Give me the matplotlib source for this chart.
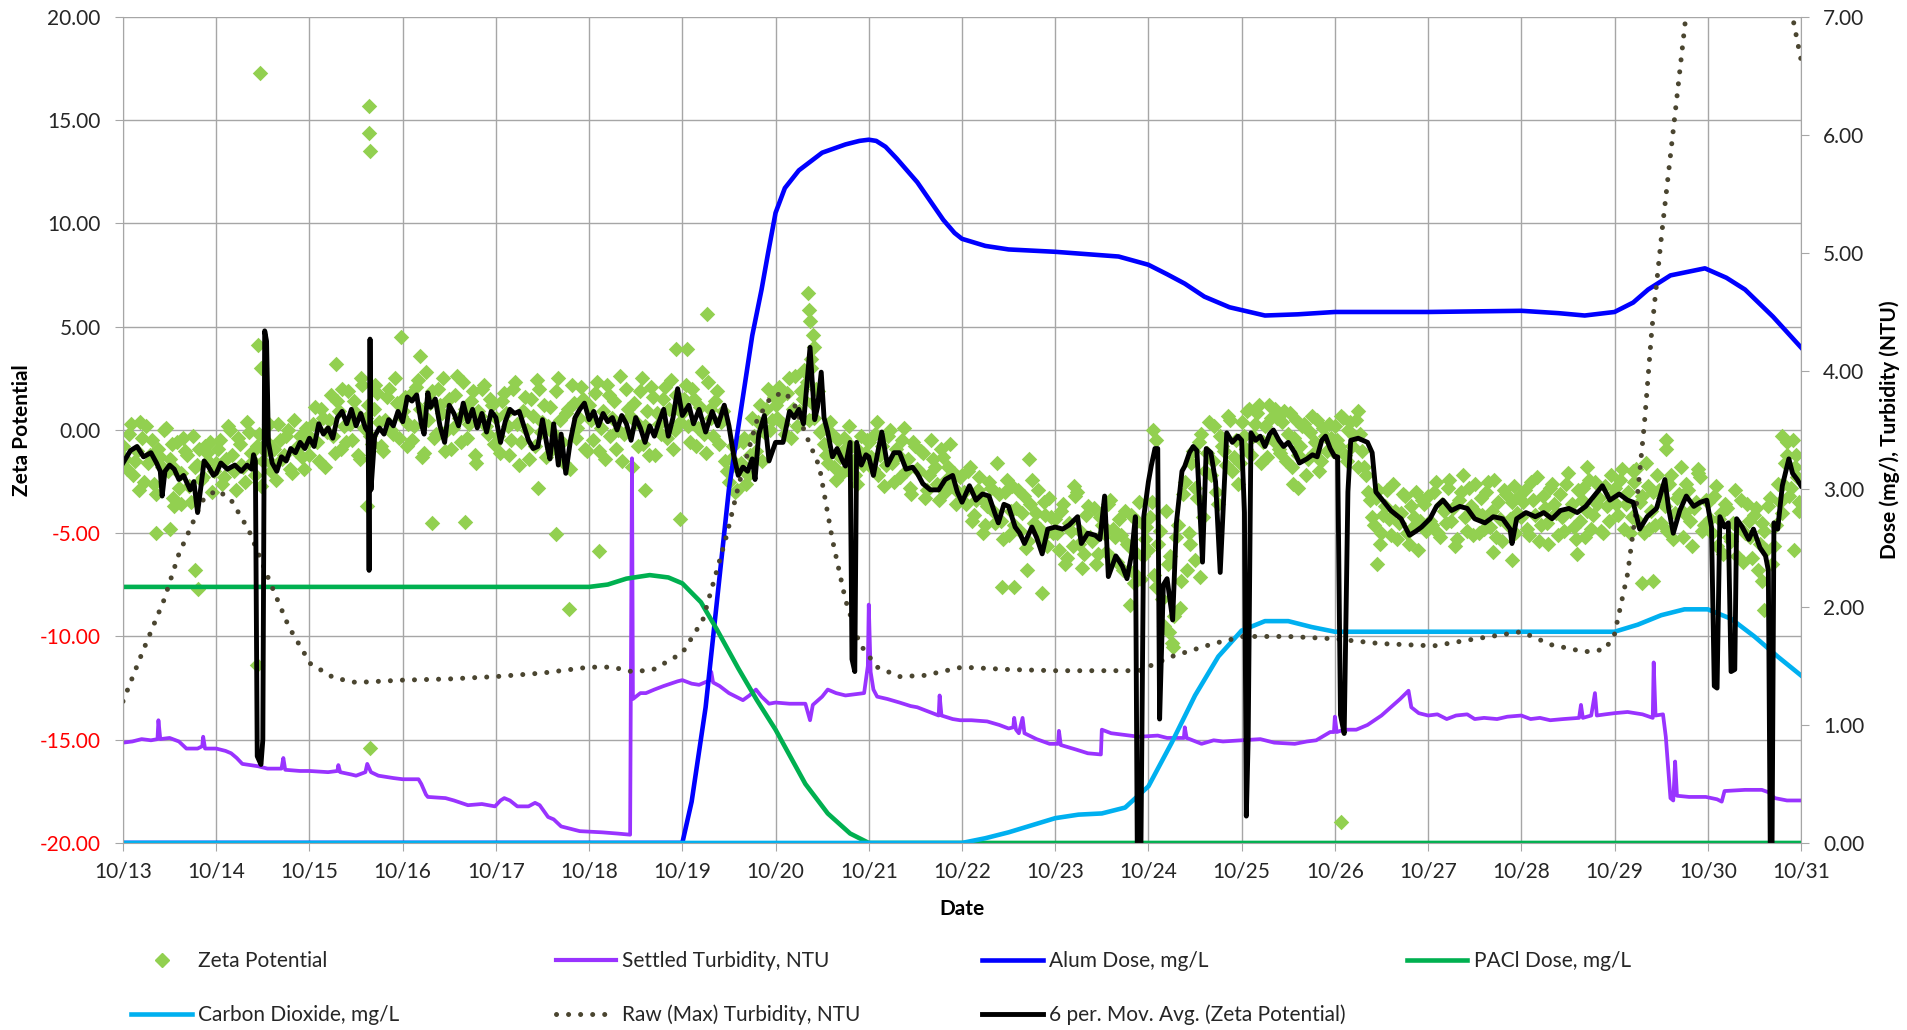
import numpy as np
import matplotlib.pyplot as plt
from matplotlib.lines import Line2D

plt.rcParams['font.family'] = ['Lato', 'DejaVu Sans']

# x axis: day 0 = 10/13
date_labels = ['10/%d' % d for d in range(13, 32)]

# Zeta potential readings on the hour, per day
zeta_1013 = [-0.8, -1.9, 0.3, -1.5, -2.9, -0.4, 0.2, -1.2, -2.6, -0.9, -1.8, 0.1,
             -1.4, -3.3, -0.6, -2.1, -1.0, -2.7, -0.3, -1.7, -2.4, -0.8, -1.5, -3.0]
zeta_1014 = [-1.6, -0.5, -2.3, 0.2, -1.2, -2.9, -0.7, -1.8, 0.4, -1.1, -2.2, -0.2,
             -1.5, -0.6, -2.0, -0.9, 0.3, -1.4, -0.3, -1.9, 0.5, -0.8, -1.3, 0.1]
zeta_1015 = [-1.2, 0.3, -0.6, 1.0, -1.8, 0.5, -0.3, 1.4, -0.9, 0.2, 1.9, -0.5,
             0.8, -1.4, 0.1, 1.2, -0.7, 2.2, 0.4, -1.0, 1.6, 0.0, 2.5, -0.4]
zeta_1016 = [0.9, -0.8, 1.7, 0.2, 2.4, -1.3, 0.6, 1.3, -0.4, 2.0, 0.8, -1.0,
             1.5, 0.1, 2.6, -0.6, 1.0, 0.3, 1.9, -1.6, 0.7, 2.2, -0.2, 1.2]
zeta_1017 = [0.6, -1.1, 1.8, 0.2, -0.5, 2.3, -1.7, 0.9, 0.0, 1.5, -0.8, 2.0,
             0.4, -1.3, 1.1, -0.2, 2.5, -0.6, 0.8, -1.9, 1.3, 0.1, 2.1, -0.9]
zeta_1018 = [1.2, -0.5, 2.3, 0.1, -1.4, 1.7, 0.6, -0.9, 2.6, -0.2, 1.0, -1.8,
             0.4, 1.9, -0.7, 0.9, 2.1, -1.2, 0.3, 1.5, -0.4, 2.4, 0.0, 1.1]
zeta_1019 = [0.8, 2.2, -0.6, 1.5, 0.1, 2.8, -1.1, 1.0, -0.3, 1.9, 0.4, -1.5,
             -2.5, -0.8, -2.9, -1.6, -0.4, -2.2, 0.6, -1.0, 1.2, -0.1, 2.0, 0.5]
zeta_1020 = [1.2, 2.1, 0.3, 1.8, -0.4, 2.6, 0.9, 1.5, 2.3, 3.0, 0.6, 1.9,
             0.0, -1.2, 0.4, -1.8, -0.5, -2.1, -0.9, 0.2, -1.5, -2.6, -0.3, -1.1]
zeta_1021 = [-0.6, -1.9, 0.4, -1.2, -2.7, -0.3, -1.6, -0.9, -2.3, 0.1, -1.4, -3.1,
             -0.8, -2.0, -1.1, -2.9, -0.5, -1.8, -3.4, -1.3, -2.4, -0.7, -2.1, -3.0]
zeta_1022 = [-2.2, -3.6, -1.8, -4.1, -2.9, -3.3, -4.6, -2.5, -3.9, -1.6, -4.4, -3.0,
             -5.1, -2.7, -3.8, -4.9, -3.2, -5.4, -2.4, -4.0, -4.8, -3.5, -5.6, -4.2]
zeta_1023 = [-4.3, -5.8, -3.6, -6.2, -4.9, -3.2, -5.5, -6.7, -4.1, -5.2, -3.8, -6.0,
             -4.6, -5.9, -3.4, -4.8, -6.4, -5.1, -3.9, -5.6, -6.9, -4.4, -7.2, -5.3]
zeta_1024 = [-5.8, -3.5, -7.6, -4.9, -9.5, -6.5, -10.3, -5.2, -8.6, -3.1, -6.8, -1.6,
             -2.8, -0.6, -4.2, -1.1, -2.2, 0.2, -3.6, -0.8, -1.7, 0.5, -1.3, -2.6]
zeta_1025 = [0.4, -0.9, 1.0, -0.3, 0.8, -1.6, 0.2, 1.2, -0.5, 0.6, -1.1, 0.9,
             -0.2, -1.8, 0.5, -0.8, 0.3, -1.4, 0.7, -0.6, -2.0, 0.1, -1.0, -0.4]
zeta_1026 = [0.2, -0.8, 0.6, -1.5, 0.4, -0.3, 0.9, -1.0, -2.2, -3.4, -4.6, -2.9,
             -5.0, -3.7, -4.3, -2.6, -5.3, -4.0, -3.2, -5.5, -4.7, -3.0, -4.4, -3.6]
zeta_1027 = [-3.2, -4.6, -2.5, -5.2, -3.9, -2.8, -4.4, -5.6, -3.4, -2.2, -4.9, -3.7,
             -2.6, -5.0, -4.1, -3.0, -4.7, -2.4, -3.5, -5.4, -3.1, -4.3, -2.7, -4.0]
zeta_1028 = [-4.2, -2.9, -5.1, -3.4, -2.3, -4.6, -3.8, -5.5, -2.6, -4.0, -3.1, -4.9,
             -2.1, -3.6, -5.3, -4.4, -2.8, -3.9, -4.8, -2.5, -3.3, -5.0, -3.7, -2.2]
zeta_1029 = [-2.8, -4.1, -1.9, -3.6, -5.0, -2.5, -4.4, -3.2, -1.6, -4.8, -3.0, -2.2,
             -4.5, -3.7, -2.6, -5.3, -3.3, -1.8, -4.0, -2.9, -5.6, -3.5, -2.3, -4.6]
zeta_1030 = [-3.5, -5.0, -2.7, -4.3, -6.0, -3.8, -5.4, -2.9, -4.7, -6.4, -3.6, -5.2,
             -4.1, -6.8, -4.5, -5.8, -3.3, -5.6, -2.6, -4.0, -1.6, -3.2, -0.5, -2.3]

# Zeta potential readings on the half hour, per day
zeta_h_1013 = [-1.4, -0.2, -2.2, -1.0, 0.4, -2.5, -1.6, -0.5, -3.1, -1.3, 0.0, -2.0,
               -0.7, -1.9, -2.8, -0.4, -1.2, -3.5, -1.8, -0.9, -2.3, -1.1, -0.6, -2.0]
zeta_h_1014 = [-0.9, -2.6, -1.4, 0.0, -2.0, -0.4, -1.7, -2.5, -0.1, -1.5, -0.8, -2.7,
               -1.0, 0.3, -1.7, -2.4, -0.5, -1.2, 0.0, -2.1, -1.0, -0.3, -1.9, -0.6]
zeta_h_1015 = [-0.4, 1.1, -1.5, 0.6, -0.1, 1.7, -1.1, 0.9, 2.0, -0.6, 0.3, 1.4,
               -1.2, 2.2, 0.6, -0.3, 1.0, 1.8, -0.8, 0.5, 2.0, -0.2, 1.3, 0.7]
zeta_h_1016 = [1.6, 0.3, -0.5, 2.1, 1.0, -1.1, 0.5, 1.9, -0.2, 1.2, 2.5, 0.0,
               -0.9, 1.7, 0.6, 2.3, -0.4, 1.4, -1.2, 0.9, 2.0, 0.2, 1.5, -0.7]
zeta_h_1017 = [-0.3, 1.4, 0.8, -1.2, 2.0, 0.3, -0.6, 1.6, -1.4, 0.7, 2.4, -0.1,
               1.2, 0.2, -0.9, 1.9, 0.5, -1.6, 1.0, 2.2, -0.4, 0.6, 1.5, -1.0]
zeta_h_1018 = [0.5, 1.8, -1.0, 0.9, 2.2, -0.3, 1.4, 0.0, -1.5, 2.0, 0.7, 1.3,
               -0.8, 2.5, 0.2, -1.2, 1.6, 0.8, -0.2, 2.1, 1.0, -0.9, 1.7, 0.4]
zeta_h_1019 = [1.5, 0.2, 2.0, -0.8, 1.1, -0.2, 2.3, 0.6, 1.4, -0.7, 0.9, -2.0,
               -1.4, -3.0, -1.9, -0.6, -2.6, -1.2, -0.3, 0.4, -1.5, 1.0, 0.0, 1.6]
zeta_h_1020 = [0.6, 1.6, -0.2, 2.5, 1.0, 0.2, 1.9, 2.8, 0.5, 1.3, 2.0, -0.1,
               -0.7, -1.6, -0.2, -2.4, -1.3, -0.4, -1.9, -0.8, -2.2, -1.0, -1.7, -0.5]
zeta_h_1021 = [-1.3, -0.2, -2.2, -0.8, -1.7, 0.0, -2.5, -1.2, -0.5, -2.0, -2.8, -0.6,
               -1.9, -1.0, -3.3, -2.2, -1.4, -2.6, -0.9, -3.0, -1.8, -2.7, -3.6, -2.3]
zeta_h_1022 = [-3.0, -2.0, -4.4, -3.4, -2.3, -5.0, -3.7, -2.8, -4.5, -3.1, -5.3, -2.4,
               -3.9, -4.6, -2.9, -4.0, -5.7, -3.6, -4.5, -2.9, -5.2, -4.1, -3.3, -5.0]
zeta_h_1023 = [-5.0, -3.9, -6.5, -4.5, -5.6, -3.0, -4.9, -6.0, -3.7, -5.4, -6.5, -4.2,
               -5.0, -3.6, -6.2, -5.2, -4.3, -6.8, -5.5, -4.1, -5.9, -3.5, -6.1, -4.7]
zeta_h_1024 = [-4.2, -7.0, -5.5, -8.2, -3.9, -6.1, -9.0, -4.6, -7.3, -2.5, -5.0, -1.0,
               -3.3, -0.2, -2.0, 0.4, -1.5, -3.0, -0.3, -1.0, 0.7, -2.0, -0.5, -1.6]
zeta_h_1025 = [-0.3, 0.9, -1.2, 0.3, 1.2, -0.6, -1.3, 0.6, 1.0, -0.9, 0.4, -1.5,
               0.8, -0.4, -1.2, 0.2, -2.2, -0.1, -1.1, 0.5, -1.5, -0.3, 0.3, -1.0]
zeta_h_1026 = [-0.5, 0.7, -1.2, 0.0, -0.8, 0.5, -0.2, -1.8, -3.0, -4.2, -3.3, -5.5,
               -4.1, -2.9, -5.1, -3.9, -4.5, -3.1, -5.0, -3.7, -4.2, -5.8, -3.4, -4.9]
zeta_h_1027 = [-4.4, -3.0, -5.0, -3.6, -4.5, -2.4, -3.8, -5.3, -3.0, -4.2, -2.8, -5.1,
               -4.0, -3.3, -4.8, -2.5, -3.9, -5.2, -4.3, -2.9, -4.6, -3.5, -5.0, -3.2]
zeta_h_1028 = [-3.5, -4.8, -2.5, -4.1, -5.4, -3.2, -4.5, -2.8, -3.6, -5.1, -4.2, -2.6,
               -3.9, -4.7, -2.9, -3.4, -5.2, -2.4, -4.1, -3.6, -4.9, -2.7, -4.4, -3.1]
zeta_h_1029 = [-3.6, -2.4, -4.8, -3.0, -4.2, -1.9, -3.5, -5.0, -2.7, -3.9, -4.6, -2.9,
               -3.3, -4.9, -2.2, -4.0, -3.1, -5.2, -2.6, -4.4, -3.8, -2.1, -4.9, -3.4]
zeta_h_1030 = [-4.3, -3.2, -5.6, -4.0, -3.6, -5.2, -4.5, -6.1, -3.4, -5.0, -4.4, -6.2,
               -3.8, -5.5, -4.9, -3.7, -6.5, -4.6, -3.5, -2.6, -1.2, -2.8, -1.8, -3.5]

# isolated zeta readings (day, value)
zeta_extra = [(0.35, -5.0), (0.5, -4.8), (0.77, -6.8), (0.8, -7.7), (0.55, -3.7), (0.62, -3.6),
              (1.47, 17.3), (1.45, 4.1), (1.48, 3.0), (1.44, -11.4),
              (2.29, 3.2), (2.64, 15.7), (2.64, 14.4), (2.65, 13.5), (2.62, -3.7), (2.65, -15.4),
              (2.55, 2.5), (2.98, 4.5), (3.19, 3.6), (3.32, -4.5), (3.67, -4.45), (3.25, 2.8),
              (4.64, -5.05), (4.45, -2.8), (4.78, -8.65), (5.11, -5.85), (5.93, 3.94),
              (5.97, -4.3), (5.6, -2.9), (6.05, 3.93), (6.27, 5.6),
              (7.35, 6.65), (7.36, 5.83), (7.37, 5.27), (7.4, 4.62), (7.41, 4.04), (7.38, 3.45),
              (7.3, 2.9), (9.43, -7.6), (9.56, -7.6), (9.72, -1.4), (9.86, -7.9), (9.7, -6.8),
              (10.2, -2.7), (10.8, -8.5), (10.85, -7.4), (11.05, 0.0), (11.08, -0.5),
              (11.26, -10.5), (11.22, -9.8), (11.45, -5.5), (11.5, -6.3), (11.55, -7.1),
              (12.55, -2.6), (12.6, -2.8), (13.07, -19.0), (13.45, -6.5), (13.25, -1.8),
              (14.7, -5.9), (14.9, -6.3), (15.6, -6.0), (15.7, -1.8),
              (16.3, -7.4), (16.41, -7.3), (16.55, -0.5), (16.55, -0.9), (16.2, -2.0),
              (16.9, -1.9), (17.6, -8.7), (17.58, -7.3), (17.8, -0.3), (17.85, -0.6),
              (17.92, -5.8), (17.95, -1.2), (17.98, -3.9)]

# 6 per. moving average of zeta potential (day, value)
zeta_avg = [(0.0, -1.6), (0.08, -1.0), (0.15, -0.8), (0.22, -1.3), (0.3, -1.1), (0.36, -1.6),
            (0.4, -2.0), (0.42, -3.2), (0.45, -2.0), (0.5, -1.7), (0.55, -1.9), (0.6, -2.4),
            (0.65, -2.2), (0.72, -2.9), (0.76, -2.5), (0.8, -4.0), (0.84, -2.6), (0.87, -1.5),
            (0.92, -1.8), (0.97, -2.2), (1.0, -2.1), (1.05, -1.6), (1.12, -1.9), (1.2, -1.7),
            (1.27, -2.0), (1.33, -1.7), (1.38, -1.9), (1.4, -1.2), (1.42, -1.5), (1.44, -15.8),
            (1.48, -16.2), (1.5, -15.0), (1.52, 4.8), (1.54, 4.3), (1.56, -0.6), (1.6, -1.6),
            (1.65, -2.0), (1.7, -1.3), (1.75, -1.5), (1.8, -0.9), (1.85, -1.1), (1.9, -0.6),
            (1.95, -0.9), (2.0, -0.4), (2.05, -0.8), (2.1, 0.3), (2.15, -0.2), (2.2, 0.1),
            (2.25, -0.4), (2.3, 0.6), (2.35, 0.9), (2.4, 0.3), (2.45, 1.0), (2.5, 0.2),
            (2.55, 0.8), (2.6, 0.1), (2.63, -0.1), (2.64, -6.8), (2.65, 4.4), (2.66, -2.9),
            (2.7, -0.3), (2.75, 0.1), (2.8, -0.2), (2.85, 0.5), (2.9, 0.2), (2.95, 0.9),
            (3.0, 0.4), (3.05, 1.6), (3.1, 1.4), (3.15, 1.7), (3.2, 0.3), (3.23, -0.2),
            (3.27, 1.8), (3.3, 1.1), (3.35, 1.5), (3.4, 0.2), (3.45, -0.6), (3.5, 1.2),
            (3.55, 0.8), (3.6, 0.2), (3.65, 1.3), (3.7, 0.4), (3.75, 1.0), (3.8, 0.1),
            (3.85, 0.8), (3.9, -0.1), (3.95, 0.9), (4.0, 0.6), (4.05, -0.6), (4.1, 0.4),
            (4.15, 1.0), (4.2, 0.8), (4.25, 0.9), (4.3, 0.2), (4.35, -0.5), (4.4, -0.9),
            (4.45, -0.8), (4.5, 0.5), (4.55, -0.8), (4.58, -1.4), (4.62, 0.3), (4.67, -1.7),
            (4.7, -0.2), (4.75, -2.1), (4.8, -0.5), (4.85, 0.6), (4.9, 1.0), (4.95, 1.3),
            (5.0, 0.5), (5.05, 0.9), (5.1, 0.2), (5.15, 0.8), (5.2, 0.4), (5.25, 0.6),
            (5.3, 0.0), (5.35, 0.7), (5.4, 0.3), (5.45, -0.5), (5.5, 0.6), (5.55, 0.1),
            (5.6, -0.6), (5.65, 0.2), (5.7, -0.3), (5.75, 0.4), (5.8, 1.0), (5.85, -0.3),
            (5.9, 0.6), (5.95, 2.0), (6.0, 0.7), (6.07, 1.2), (6.12, 0.3), (6.18, 1.0),
            (6.25, -0.1), (6.32, 0.9), (6.38, 0.2), (6.45, 1.2), (6.5, 0.2), (6.55, -1.2),
            (6.6, -2.2), (6.65, -1.8), (6.7, -2.0), (6.75, -1.4), (6.78, -2.4), (6.82, -0.2),
            (6.88, 0.7), (6.93, -1.5), (7.0, -0.6), (7.08, -0.6), (7.15, 0.9), (7.2, 0.6),
            (7.25, 1.0), (7.3, 0.3), (7.37, 4.0), (7.42, 0.5), (7.45, 1.1), (7.49, 2.8),
            (7.52, 0.6), (7.56, -0.1), (7.61, -1.3), (7.66, -0.9), (7.72, -1.5), (7.75, -1.75),
            (7.8, -0.6), (7.82, -11.1), (7.85, -11.7), (7.87, -0.6), (7.92, -1.7), (7.97, -1.2),
            (8.0, -1.3), (8.05, -2.2), (8.1, -1.0), (8.14, -0.1), (8.2, -1.7), (8.27, -1.1),
            (8.33, -1.1), (8.4, -1.9), (8.47, -1.8), (8.52, -2.1), (8.58, -2.6), (8.66, -2.9),
            (8.75, -2.9), (8.82, -2.4), (8.9, -2.2), (8.95, -3.0), (9.0, -3.5), (9.08, -2.7),
            (9.15, -3.4), (9.22, -3.1), (9.29, -3.2), (9.35, -4.0), (9.39, -4.5), (9.45, -3.6),
            (9.5, -3.7), (9.57, -4.7), (9.62, -5.0), (9.67, -5.5), (9.75, -4.7), (9.8, -5.2),
            (9.86, -6.0), (9.92, -4.8), (10.0, -4.7), (10.08, -4.8), (10.15, -4.6), (10.24, -4.2),
            (10.28, -5.5), (10.35, -5.0), (10.43, -5.1), (10.48, -5.3), (10.53, -3.2),
            (10.57, -7.1), (10.65, -6.1), (10.72, -6.6), (10.77, -7.2), (10.82, -6.0),
            (10.86, -4.2), (10.88, -20.0), (10.92, -20.0), (10.95, -4.2), (11.0, -2.5),
            (11.03, -1.75), (11.07, -0.9), (11.1, -0.9), (11.12, -14.0), (11.16, -7.5),
            (11.2, -7.2), (11.26, -9.2), (11.3, -4.5), (11.36, -2.0), (11.39, -1.75),
            (11.44, -1.1), (11.48, -0.8), (11.52, -1.0), (11.58, -6.4), (11.62, -0.9),
            (11.67, -1.1), (11.72, -2.5), (11.77, -6.9), (11.84, -0.14), (11.9, -0.6),
            (11.96, -0.3), (12.0, -0.5), (12.03, -4.0), (12.05, -18.7), (12.07, -15.0),
            (12.1, -0.14), (12.15, -0.5), (12.2, -0.3), (12.25, -0.8), (12.3, -0.2),
            (12.34, 0.0), (12.4, -0.5), (12.45, -0.8), (12.5, -0.6), (12.57, -1.1),
            (12.62, -1.6), (12.7, -1.4), (12.76, -1.2), (12.81, -1.3), (12.86, -0.5),
            (12.9, -0.3), (12.95, -0.9), (13.0, -1.3), (13.03, -1.3), (13.06, -13.8),
            (13.1, -14.7), (13.14, -3.0), (13.17, -0.5), (13.25, -0.4), (13.35, -0.6),
            (13.4, -1.1), (13.44, -3.0), (13.53, -3.5), (13.6, -3.9), (13.71, -4.3),
            (13.8, -5.1), (13.87, -4.9), (13.93, -4.7), (14.02, -4.3), (14.09, -3.7),
            (14.16, -3.4), (14.25, -3.9), (14.34, -3.7), (14.42, -3.8), (14.5, -4.3),
            (14.61, -4.5), (14.7, -4.2), (14.8, -4.3), (14.88, -4.8), (14.9, -5.5),
            (14.95, -4.3), (15.05, -4.0), (15.15, -4.2), (15.24, -4.0), (15.33, -4.3),
            (15.42, -3.9), (15.51, -3.8), (15.6, -4.0), (15.69, -3.7), (15.78, -3.2),
            (15.87, -2.7), (15.95, -3.4), (16.05, -3.1), (16.14, -3.4), (16.2, -3.5),
            (16.27, -4.8), (16.35, -4.2), (16.45, -3.8), (16.54, -2.4), (16.58, -3.8),
            (16.63, -5.0), (16.7, -3.9), (16.77, -3.2), (16.85, -3.7), (16.92, -3.5),
            (16.99, -3.4), (17.04, -4.7), (17.07, -12.4), (17.1, -12.5), (17.13, -4.2),
            (17.18, -4.7), (17.22, -4.5), (17.25, -11.7), (17.29, -11.6), (17.31, -4.3),
            (17.37, -4.7), (17.44, -5.3), (17.49, -4.8), (17.56, -5.7), (17.62, -6.1),
            (17.65, -6.8), (17.67, -20.0), (17.69, -20.0), (17.71, -4.5), (17.75, -4.8),
            (17.8, -2.7), (17.87, -1.4), (17.91, -2.1), (17.96, -2.4), (18.0, -2.7)]

# Settled turbidity, NTU (day, value)
settled = [(0.0, 0.85), (0.1, 0.86), (0.2, 0.88), (0.3, 0.87), (0.37, 0.88), (0.38, 1.04),
           (0.4, 0.88), (0.5, 0.89), (0.6, 0.86), (0.68, 0.80), (0.8, 0.80), (0.85, 0.82),
           (0.86, 0.9), (0.88, 0.80), (1.0, 0.80), (1.1, 0.78), (1.16, 0.76), (1.22, 0.72),
           (1.28, 0.67), (1.45, 0.65), (1.55, 0.63), (1.7, 0.63), (1.72, 0.72), (1.74, 0.62),
           (1.9, 0.61), (2.0, 0.61), (2.2, 0.60), (2.3, 0.61), (2.31, 0.66), (2.33, 0.60),
           (2.45, 0.58), (2.5, 0.57), (2.6, 0.6), (2.62, 0.67), (2.66, 0.6), (2.74, 0.57),
           (2.9, 0.55), (3.0, 0.54), (3.17, 0.54), (3.2, 0.50), (3.25, 0.41), (3.27, 0.39),
           (3.46, 0.38), (3.55, 0.36), (3.7, 0.32), (3.85, 0.33), (3.99, 0.31), (4.05, 0.36),
           (4.09, 0.38), (4.15, 0.36), (4.23, 0.31), (4.35, 0.31), (4.42, 0.34), (4.47, 0.32),
           (4.56, 0.22), (4.62, 0.2), (4.7, 0.14), (4.8, 0.12), (4.9, 0.10), (5.14, 0.09),
           (5.3, 0.08), (5.44, 0.07), (5.46, 3.26), (5.47, 1.22), (5.55, 1.27), (5.61, 1.27),
           (5.7, 1.3), (5.8, 1.33), (5.95, 1.37), (6.0, 1.38), (6.1, 1.35), (6.18, 1.34),
           (6.3, 1.38), (6.31, 1.45), (6.33, 1.36), (6.4, 1.33), (6.5, 1.27), (6.6, 1.23),
           (6.65, 1.21), (6.72, 1.25), (6.79, 1.30), (6.85, 1.24), (6.93, 1.18), (7.0, 1.19),
           (7.15, 1.18), (7.32, 1.18), (7.37, 1.04), (7.4, 1.17), (7.5, 1.24), (7.56, 1.30),
           (7.65, 1.27), (7.75, 1.25), (7.85, 1.26), (7.95, 1.27), (7.99, 1.5), (8.0, 2.02),
           (8.02, 1.45), (8.05, 1.3), (8.09, 1.24), (8.2, 1.22), (8.33, 1.19), (8.45, 1.16),
           (8.52, 1.15), (8.65, 1.11), (8.75, 1.08), (8.76, 1.25), (8.78, 1.08), (8.9, 1.05),
           (8.98, 1.04), (9.1, 1.04), (9.27, 1.03), (9.4, 1.0), (9.5, 0.97), (9.55, 0.98),
           (9.56, 1.06), (9.58, 0.96), (9.61, 0.93), (9.65, 1.06), (9.67, 0.93), (9.8, 0.88),
           (9.94, 0.84), (10.03, 0.84), (10.04, 0.95), (10.06, 0.83), (10.23, 0.79),
           (10.35, 0.76), (10.49, 0.75), (10.5, 0.96), (10.6, 0.93), (10.7, 0.92),
           (10.9, 0.9), (11.1, 0.91), (11.2, 0.89), (11.38, 0.89), (11.39, 0.98), (11.41, 0.89),
           (11.57, 0.84), (11.7, 0.87), (11.8, 0.86), (12.0, 0.87), (12.2, 0.88), (12.35, 0.85),
           (12.57, 0.84), (12.7, 0.86), (12.8, 0.87), (12.95, 0.94), (12.99, 0.94), (13.0, 1.07),
           (13.02, 0.94), (13.1, 0.96), (13.23, 0.96), (13.35, 1.0), (13.5, 1.08), (13.6, 1.15),
           (13.7, 1.22), (13.79, 1.29), (13.82, 1.15), (13.9, 1.1), (14.0, 1.08), (14.1, 1.09),
           (14.2, 1.05), (14.3, 1.08), (14.42, 1.09), (14.5, 1.05), (14.6, 1.06), (14.74, 1.05),
           (14.85, 1.07), (15.0, 1.08), (15.1, 1.05), (15.2, 1.06), (15.31, 1.04), (15.45, 1.05),
           (15.62, 1.06), (15.64, 1.17), (15.66, 1.06), (15.75, 1.08), (15.79, 1.27),
           (15.81, 1.08), (15.9, 1.09), (16.0, 1.1), (16.14, 1.11), (16.3, 1.09), (16.41, 1.06),
           (16.42, 1.53), (16.44, 1.08), (16.52, 1.09), (16.55, 0.9), (16.6, 0.38), (16.63, 0.36),
           (16.65, 0.69), (16.67, 0.4), (16.8, 0.39), (16.98, 0.39), (17.1, 0.37), (17.15, 0.35),
           (17.18, 0.44), (17.4, 0.45), (17.58, 0.45), (17.65, 0.43), (17.72, 0.38),
           (17.85, 0.36), (18.0, 0.36)]

# Alum dose, mg/L (day, value)
alum = [(0.0, 0.0), (6.0, 0.0), (6.1, 0.35), (6.25, 1.15), (6.5, 3.0), (6.75, 4.3),
        (6.85, 4.69), (6.92, 5.0), (7.0, 5.34), (7.1, 5.55), (7.25, 5.7), (7.5, 5.85),
        (7.75, 5.92), (7.9, 5.95), (8.0, 5.96), (8.08, 5.95), (8.18, 5.9), (8.3, 5.8),
        (8.52, 5.6), (8.8, 5.28), (8.92, 5.17), (9.0, 5.12), (9.25, 5.06), (9.5, 5.03),
        (10.0, 5.01), (10.68, 4.97), (11.0, 4.9), (11.2, 4.82), (11.39, 4.74), (11.6, 4.63),
        (11.87, 4.54), (12.25, 4.47), (12.6, 4.48), (13.0, 4.5), (14.0, 4.5), (15.0, 4.51),
        (15.4, 4.49), (15.68, 4.47), (16.0, 4.5), (16.2, 4.58), (16.36, 4.69), (16.6, 4.81),
        (16.97, 4.87), (17.2, 4.79), (17.4, 4.69), (17.7, 4.46), (18.0, 4.2)]

# PACl dose, mg/L (day, value)
pacl = [(0.0, 2.17), (5.0, 2.17), (5.2, 2.19), (5.4, 2.24), (5.65, 2.27), (5.85, 2.25),
        (6.0, 2.2), (6.2, 2.04), (6.37, 1.81), (6.6, 1.48), (6.8, 1.21), (7.0, 0.96),
        (7.32, 0.5), (7.56, 0.25), (7.8, 0.08), (8.0, 0.0), (18.0, 0.0)]

# Carbon dioxide, mg/L (day, value)
co2 = [(0.0, 0.0), (9.0, 0.0), (9.25, 0.04), (9.5, 0.09), (9.75, 0.15), (10.0, 0.21),
       (10.25, 0.24), (10.5, 0.25), (10.75, 0.3), (11.0, 0.48), (11.25, 0.85), (11.5, 1.25),
       (11.75, 1.58), (12.0, 1.8), (12.25, 1.88), (12.5, 1.88), (12.75, 1.83), (13.0, 1.79),
       (14.0, 1.79), (15.0, 1.79), (16.0, 1.79), (16.25, 1.85), (16.5, 1.93), (16.75, 1.98),
       (17.0, 1.98), (17.25, 1.9), (17.5, 1.75), (17.75, 1.58), (18.0, 1.42)]

# Raw (max) turbidity, NTU (day, value)
raw = [(0.0, 1.2), (0.2, 1.6), (0.44, 2.06), (0.6, 2.45), (0.73, 2.68), (0.85, 2.9),
       (1.0, 2.99), (1.15, 2.92), (1.35, 2.65), (1.54, 2.28), (1.78, 1.83), (2.01, 1.52),
       (2.26, 1.4), (2.5, 1.36), (3.0, 1.38), (3.5, 1.39), (4.0, 1.41), (4.5, 1.44),
       (5.0, 1.49), (5.25, 1.49), (5.47, 1.45), (5.69, 1.47), (6.0, 1.61), (6.22, 1.89),
       (6.36, 2.28), (6.48, 2.62), (6.6, 3.02), (6.8, 3.58), (6.95, 3.78), (7.1, 3.82),
       (7.2, 3.72), (7.32, 3.47), (7.47, 3.19), (7.61, 2.57), (7.75, 2.06), (7.9, 1.69),
       (8.09, 1.49), (8.33, 1.41), (8.6, 1.42), (9.0, 1.49), (9.5, 1.47), (10.0, 1.46),
       (10.5, 1.46), (10.9, 1.46), (11.25, 1.58), (11.7, 1.69), (12.02, 1.75), (12.5, 1.75),
       (13.0, 1.73), (13.48, 1.69), (14.06, 1.67), (14.51, 1.73), (15.0, 1.79), (15.32, 1.68),
       (15.68, 1.62), (15.9, 1.64), (16.0, 1.77), (16.14, 2.28), (16.23, 2.82), (16.32, 3.55),
       (16.4, 4.35), (16.51, 5.19), (16.63, 6.04), (16.76, 6.97), (17.0, 8.6), (17.3, 9.3),
       (17.6, 8.8), (17.91, 7.0), (18.0, 6.64)]

zeta_on_hour = (zeta_1013 + zeta_1014 + zeta_1015 + zeta_1016 + zeta_1017 + zeta_1018 +
                zeta_1019 + zeta_1020 + zeta_1021 + zeta_1022 + zeta_1023 + zeta_1024 +
                zeta_1025 + zeta_1026 + zeta_1027 + zeta_1028 + zeta_1029 + zeta_1030)
zeta_half_hour = (zeta_h_1013 + zeta_h_1014 + zeta_h_1015 + zeta_h_1016 + zeta_h_1017 +
                  zeta_h_1018 + zeta_h_1019 + zeta_h_1020 + zeta_h_1021 + zeta_h_1022 +
                  zeta_h_1023 + zeta_h_1024 + zeta_h_1025 + zeta_h_1026 + zeta_h_1027 +
                  zeta_h_1028 + zeta_h_1029 + zeta_h_1030)
t_hour = np.arange(len(zeta_on_hour)) / 24.0
t_half = (np.arange(len(zeta_half_hour)) + 0.5) / 24.0
extra_t, extra_v = zip(*zeta_extra)

C_ZETA = '#92d050'
C_SETTLED = '#9933ff'
C_ALUM = '#0000ff'
C_PACL = '#00b050'
C_CO2 = '#00b0f0'
C_RAW = '#4a4530'
C_GRID = '#a6a6a6'
C_TEXT = '#262626'
FS = 15

fig = plt.figure(figsize=(19.07, 10.30), dpi=100)
rect = [0.0645, 0.1816, 0.8799, 0.8019]

# background axes: grid + zeta scatter
ax0 = fig.add_axes(rect, zorder=0)
ax0.set_xlim(0, 18)
ax0.set_ylim(-20, 20)
ax0.set_xticks(range(19))
ax0.set_yticks(range(-20, 21, 5))
ax0.grid(True, color=C_GRID, lw=1.0)
ax0.set_axisbelow(True)
ax0.tick_params(left=False, bottom=False, labelleft=False, labelbottom=False)
for s in ax0.spines.values():
    s.set_visible(False)
ax0.scatter(t_hour, zeta_on_hour, marker='D', s=62, color=C_ZETA, linewidths=0, zorder=3)
ax0.scatter(t_half, zeta_half_hour, marker='D', s=62, color=C_ZETA, linewidths=0, zorder=3)
ax0.scatter(extra_t, extra_v, marker='D', s=62, color=C_ZETA, linewidths=0, zorder=3)

# secondary axis: doses and turbidity
ax2 = fig.add_axes(rect, zorder=1)
ax2.patch.set_visible(False)
ax2.set_xlim(0, 18)
ax2.set_ylim(0, 7)
for series, col, lw in [(settled, C_SETTLED, 2.7), (alum, C_ALUM, 3.3), (pacl, C_PACL, 3.3), (co2, C_CO2, 3.3)]:
    d, v = zip(*series)
    ax2.plot(d, v, color=col, lw=lw, solid_joinstyle='round')
d, v = zip(*raw)
ax2.plot(d, v, color=C_RAW, lw=3.6, ls=(0, (0.01, 2.4)), dash_capstyle='round')
ax2.xaxis.set_visible(False)
ax2.yaxis.tick_right()
ax2.yaxis.set_label_position('right')
ax2.set_yticks(range(8))
ax2.set_yticklabels(['%.2f' % t for t in range(8)])
ax2.tick_params(axis='y', direction='out', length=6, color=C_GRID, labelsize=FS,
                labelcolor=C_TEXT, pad=10)
for k, s in ax2.spines.items():
    s.set_visible(k == 'right')
ax2.spines['right'].set_color(C_GRID)
ax2.set_ylabel('Dose (mg/), Turbidity (NTU)', fontsize=FS, fontweight='bold', color='black')
ax2.yaxis.set_label_coords(1.047, 0.5)

# primary axis: moving average, ticks and labels
ax1 = fig.add_axes(rect, zorder=2)
ax1.patch.set_visible(False)
ax1.set_xlim(0, 18)
ax1.set_ylim(-20, 20)
d, v = zip(*zeta_avg)
ax1.plot(d, v, color='black', lw=3.5, solid_joinstyle='round')
ax1.set_xticks(range(19))
ax1.set_xticklabels(date_labels)
yt = list(range(-20, 21, 5))
ax1.set_yticks(yt)
ax1.set_yticklabels(['%.2f' % t for t in yt])
for lbl, t in zip(ax1.get_yticklabels(), yt):
    lbl.set_color('#ff0000' if t < 0 else C_TEXT)
ax1.tick_params(axis='y', direction='out', length=6, color=C_GRID, labelsize=FS, pad=10)
ax1.tick_params(axis='x', direction='out', length=6, color=C_GRID, labelsize=FS,
                labelcolor=C_TEXT, pad=7)
for k in ['top', 'right']:
    ax1.spines[k].set_visible(False)
for k in ['left', 'bottom']:
    ax1.spines[k].set_color(C_GRID)
ax1.set_ylabel('Zeta Potential', fontsize=FS, fontweight='bold', color='black')
ax1.yaxis.set_label_coords(-0.054, 0.5)
ax1.set_xlabel('Date', fontsize=FS, fontweight='bold', color='black')
ax1.xaxis.set_label_coords(0.5, -0.068)

# legend, laid out like the spreadsheet's 4-column grid
handles = [
    (Line2D([], [], ls='none', marker='D', ms=7, mfc=C_ZETA, mec=C_ZETA), 'Zeta Potential', 0.0689, 0.067),
    (Line2D([], [], color=C_SETTLED, lw=3), 'Settled Turbidity, NTU', 0.2914, 0.067),
    (Line2D([], [], color=C_ALUM, lw=3.3), 'Alum Dose, mg/L', 0.5152, 0.067),
    (Line2D([], [], color=C_PACL, lw=3.3), 'PACl Dose, mg/L', 0.7378, 0.067),
    (Line2D([], [], color=C_CO2, lw=3.3), 'Carbon Dioxide, mg/L', 0.0689, 0.0146),
    (Line2D([], [], color=C_RAW, lw=3.6, ls=(0, (0.01, 2.4)), dash_capstyle='round'),
     'Raw (Max) Turbidity, NTU', 0.2914, 0.0146),
    (Line2D([], [], color='black', lw=3.5), '6 per. Mov. Avg. (Zeta Potential)', 0.5152, 0.0146),
]
for h, lab, x, y in handles:
    leg = fig.legend([h], [lab], loc='center left', bbox_to_anchor=(x, y), frameon=False,
                     fontsize=FS, handlelength=2.9, handletextpad=0.3, borderpad=0,
                     borderaxespad=0, numpoints=1)
    for t in leg.get_texts():
        t.set_color(C_TEXT)

fig.savefig('out.png', dpi=100)
